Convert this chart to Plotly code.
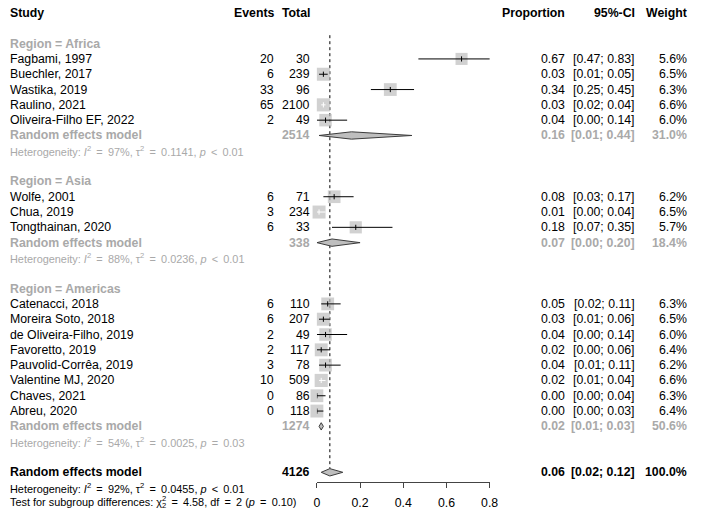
import math
import plotly.graph_objects as go

# ---------------- data ----------------
regions = ["Africa", "Asia", "Americas"]

study_names = [
    "Fagbami, 1997", "Buechler, 2017", "Wastika, 2019", "Raulino, 2021", "Oliveira-Filho EF, 2022",
    "Wolfe, 2001", "Chua, 2019", "Tongthainan, 2020",
    "Catenacci, 2018", "Moreira Soto, 2018", "de Oliveira-Filho, 2019", "Favoretto, 2019",
    "Pauvolid-Corrêa, 2019", "Valentine MJ, 2020", "Chaves, 2021", "Abreu, 2020",
]
study_region = ["Africa"] * 5 + ["Asia"] * 3 + ["Americas"] * 8
events = [20, 6, 33, 65, 2, 6, 3, 6, 6, 6, 2, 2, 3, 10, 0, 0]
totals = [30, 239, 96, 2100, 49, 71, 234, 33, 110, 207, 49, 117, 78, 509, 86, 118]
prop = [0.67, 0.03, 0.34, 0.03, 0.04, 0.08, 0.01, 0.18, 0.05, 0.03, 0.04, 0.02, 0.04, 0.02, 0.00, 0.00]
ci_low = [0.47, 0.01, 0.25, 0.02, 0.00, 0.03, 0.00, 0.07, 0.02, 0.01, 0.00, 0.00, 0.01, 0.01, 0.00, 0.00]
ci_high = [0.83, 0.05, 0.45, 0.04, 0.14, 0.17, 0.04, 0.35, 0.11, 0.06, 0.14, 0.06, 0.11, 0.04, 0.04, 0.03]
weights = [5.6, 6.5, 6.3, 6.6, 6.0, 6.2, 6.5, 5.7, 6.3, 6.5, 6.0, 6.4, 6.2, 6.6, 6.3, 6.4]

sub_total = [2514, 338, 1274]
sub_prop = [0.16, 0.07, 0.02]
sub_low = [0.01, 0.00, 0.01]
sub_high = [0.44, 0.20, 0.03]
sub_weight = [31.0, 18.4, 50.6]
sub_i2 = [97, 88, 54]
sub_tau2 = ["0.1141", "0.0236", "0.0025"]
sub_p = ["&lt;", "&lt;", "="]
sub_pval = ["0.01", "0.01", "0.03"]

overall_total = 4126
overall_prop = 0.06
overall_low = 0.02
overall_high = 0.12
overall_weight = 100.0
overall_i2 = 92
overall_tau2 = "0.0455"
overall_p = "&lt;"
overall_pval = "0.01"

subgroup_chi2 = "4.58"
subgroup_df = 2
subgroup_p = "0.10"

tick_vals = [0, 0.2, 0.4, 0.6, 0.8]
tick_text = ["0", "0.2", "0.4", "0.6", "0.8"]

# ---------------- styles ----------------
W, H = 709, 519
FONT = "Arial, Liberation Sans, sans-serif"
FS = 12.3
FS_HET = 10.9
BLACK = "#000000"
GRAY_TXT = "#A9A9A9"
SQ_COL = "#BEBEBE"
DIA_LINE = "#3C3C3C"
inside_white = {"Raulino, 2021", "Chua, 2019", "Valentine MJ, 2020"}
NB = "\u2009"  # extra operator spacing, as in R plotmath

Y0 = 13.0      # pixel y of row 0
DY = 15.31     # pixel per row
AXIS_Y = 481.7
X_LEFT_PX, X_RIGHT_PX = 319.3, 495.0

COL_STUDY = 7
COL_EVENTS = 276
COL_TOTAL = 312.5
COL_PROP = 572
COL_CI = 643
COL_WEIGHT = 696


def py(row):
    return 1 - (Y0 + DY * row) / H


def px(x):
    return x / W


annotations = []


def txt(x, row, text, anchor="left", color=BLACK, bold=False, size=FS):
    if bold:
        text = "<b>" + text + "</b>"
    annotations.append(dict(
        x=px(x), y=py(row), xref="paper", yref="paper", text=text, showarrow=False,
        xanchor=anchor, yanchor="middle", borderpad=0, borderwidth=0,
        font=dict(family=FONT, size=size, color=color),
    ))


def fmt_ci(lo, hi):
    return "[%.2f; %.2f]" % (lo, hi)


def op(s):
    return NB + " " + s + " " + NB


def het_text(i2, tau2, p, pval):
    return ("Heterogeneity: <i>I</i><sup>2</sup>%s%d%%, τ<sup>2</sup>%s%s, <i>p</i>%s%s"
            % (op("="), i2, op("="), tau2, op(p), pval))


# header
txt(COL_STUDY, 0, "Study", bold=True)
txt(COL_EVENTS, 0, "Events", "right", bold=True)
txt(COL_TOTAL, 0, "Total", "right", bold=True)
txt(COL_PROP, 0, "Proportion", "right", bold=True)
txt(COL_CI, 0, "95%-CI", "right", bold=True)
txt(COL_WEIGHT, 0, "Weight", "right", bold=True)

study_rows = []
sub_rows = []
row = 2
for g, reg in enumerate(regions):
    txt(COL_STUDY, row, "Region = " + reg, color=GRAY_TXT, bold=True)
    row += 1
    for i, r in enumerate(study_region):
        if r != reg:
            continue
        study_rows.append(row)
        txt(COL_STUDY, row, study_names[i])
        txt(COL_EVENTS, row, str(events[i]), "right")
        txt(COL_TOTAL, row, str(totals[i]), "right")
        txt(COL_PROP, row, "%.2f" % prop[i], "right")
        txt(COL_CI, row, fmt_ci(ci_low[i], ci_high[i]), "right")
        txt(COL_WEIGHT, row, "%.1f%%" % weights[i], "right")
        row += 1
    sub_rows.append(row)
    txt(COL_STUDY, row, "Random effects model", color=GRAY_TXT, bold=True)
    txt(COL_TOTAL, row, str(sub_total[g]), "right", color=GRAY_TXT, bold=True)
    txt(COL_PROP, row, "%.2f" % sub_prop[g], "right", color=GRAY_TXT, bold=True)
    txt(COL_CI, row, fmt_ci(sub_low[g], sub_high[g]), "right", color=GRAY_TXT, bold=True)
    txt(COL_WEIGHT, row, "%.1f%%" % sub_weight[g], "right", color=GRAY_TXT, bold=True)
    row += 1
    txt(COL_STUDY, row, het_text(sub_i2[g], sub_tau2[g], sub_p[g], sub_pval[g]),
        color=GRAY_TXT, size=FS_HET)
    row += 2

overall_row = row
txt(COL_STUDY, row, "Random effects model", bold=True)
txt(COL_TOTAL, row, str(overall_total), "right", bold=True)
txt(COL_PROP, row, "%.2f" % overall_prop, "right", bold=True)
txt(COL_CI, row, fmt_ci(overall_low, overall_high), "right", bold=True)
txt(COL_WEIGHT, row, "%.1f%%" % overall_weight, "right", bold=True)
row += 1
txt(COL_STUDY, row, het_text(overall_i2, overall_tau2, overall_p, overall_pval), size=FS_HET)
row += 1
txt(COL_STUDY, row,
    "Test for subgroup differences: χ<sup><span style='letter-spacing:-4.3px'>2</span></sup>"
    "<sub>%d</sub>%s%s, df%s%d (<i>p</i>%s%s)"
    % (subgroup_df, op("="), subgroup_chi2, op("="), subgroup_df, op("="), subgroup_p),
    size=FS_HET)

# ---------------- marks ----------------
fig = go.Figure()

# squares
fig.add_trace(go.Scatter(
    x=prop, y=study_rows, mode="markers", cliponaxis=False, hoverinfo="skip",
    marker=dict(symbol="square", size=[5.1 * math.sqrt(w) for w in weights],
                color=SQ_COL, line=dict(width=0)),
))

# CI lines and estimate ticks
TICK_H = 0.17
for colr, want_white in ((BLACK, False), ("#FFFFFF", True)):
    lx, ly = [], []
    for i in range(len(study_names)):
        if (study_names[i] in inside_white) != want_white:
            continue
        r = study_rows[i]
        lx += [ci_low[i], ci_high[i], None, prop[i], prop[i], None]
        ly += [r, r, None, r - TICK_H, r + TICK_H, None]
    fig.add_trace(go.Scatter(x=lx, y=ly, mode="lines", cliponaxis=False, hoverinfo="skip",
                             line=dict(color=colr, width=1)))

# reference line at overall estimate
fig.add_shape(type="line", xref="x", yref="y", x0=overall_prop, x1=overall_prop,
              y0=1.45, y1=overall_row - 0.24, line=dict(color=BLACK, width=1, dash="dot"),
              layer="below")

# diamonds
DH = 0.24
dia = list(zip(sub_rows, sub_prop, sub_low, sub_high)) + [(overall_row, overall_prop, overall_low, overall_high)]
for r, est, lo, hi in dia:
    fig.add_trace(go.Scatter(
        x=[lo, est, hi, est, lo], y=[r, r - DH, r, r + DH, r], mode="lines", fill="toself",
        fillcolor=SQ_COL, line=dict(color=DIA_LINE, width=1), cliponaxis=False, hoverinfo="skip",
    ))

fig.update_layout(
    width=W, height=H, margin=dict(l=0, r=0, t=0, b=0),
    paper_bgcolor="white", plot_bgcolor="white", showlegend=False,
    annotations=annotations,
    xaxis=dict(domain=[X_LEFT_PX / W, X_RIGHT_PX / W], range=[0, 0.8], showgrid=False, zeroline=False,
               showline=True, linecolor="#444444", linewidth=1, ticks="outside", ticklen=5,
               tickwidth=1, tickcolor="#444444", tickvals=tick_vals, ticktext=tick_text,
               tickfont=dict(family=FONT, size=FS, color=BLACK), ticklabelstandoff=5,
               fixedrange=True),
    yaxis=dict(domain=[(H - AXIS_Y) / H, 1], range=[(AXIS_Y - Y0) / DY, -Y0 / DY],
               visible=False, showgrid=False, zeroline=False, fixedrange=True),
)

fig.write_html(
    "out.html",
    config={"displayModeBar": False, "staticPlot": True},
    post_script="document.body.style.margin='0';document.body.style.overflow='hidden';",
)
